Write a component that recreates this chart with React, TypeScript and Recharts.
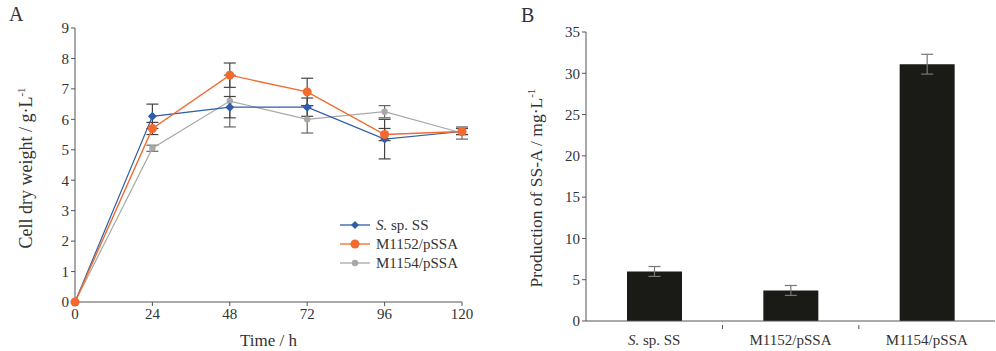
import React from 'react';
import {
    LineChart, Line, BarChart, Bar, XAxis, YAxis, ErrorBar, Customized,
} from 'recharts';

// Panel A: cell dry weight over time
const hours = [0, 24, 48, 72, 96, 120];
const ssValues = [0, 6.1, 6.4, 6.4, 5.35, 5.6];
const ssErrors = [0, 0.4, 0.35, 0.3, 0.65, 0.1];
const m1152Values = [0, 5.7, 7.45, 6.9, 5.5, 5.6];
const m1152Errors = [0, 0.2, 0.4, 0.45, 0.2, 0.1];
const m1154Values = [0, 5.05, 6.6, 6.0, 6.25, 5.55];
const m1154Errors = [0, 0.1, 0.85, 0.45, 0.2, 0.2];
const weightTicks = [0, 1, 2, 3, 4, 5, 6, 7, 8, 9];

// Panel B: SS-A production
const strains = ['S. sp. SS', 'M1152/pSSA', 'M1154/pSSA'];
const production = [6.0, 3.7, 31.1];
const productionErrors = [0.6, 0.6, 1.2];
const productionTicks = [0, 5, 10, 15, 20, 25, 30, 35];

const lineData = hours.map((h, i) => ({
    h,
    ss: ssValues[i], ssErr: ssErrors[i],
    m1152: m1152Values[i], m1152Err: m1152Errors[i],
    m1154: m1154Values[i], m1154Err: m1154Errors[i],
}));

const barData = strains.map((name, i) => ({
    name, value: production[i], err: productionErrors[i],
}));

const FONT = '"Liberation Serif", "DejaVu Serif", serif';
const AXIS = '#555';
const TEXT = '#333';

const SS_COLOR = '#2F5DA8';
const M1152_COLOR = '#F26A2E';
const M1154_COLOR = '#A8A8A8';

const Diamond = (props: any) => {
    const { cx, cy } = props;
    if (cx == null || cy == null) return null;
    const r = 4.5;
    return <path d={`M${cx},${cy - r}L${cx + r},${cy}L${cx},${cy + r}L${cx - r},${cy}Z`} fill={SS_COLOR} />;
};

function StrainName({ name }: { name: string }) {
    if (name.startsWith('S. ')) {
        return (
            <>
                <tspan fontStyle="italic">S.</tspan>
                <tspan>{name.slice(2)}</tspan>
            </>
        );
    }
    return <>{name}</>;
}

const legendItems = [
    { name: 'S. sp. SS', color: SS_COLOR, shape: 'diamond' },
    { name: 'M1152/pSSA', color: M1152_COLOR, shape: 'big' },
    { name: 'M1154/pSSA', color: M1154_COLOR, shape: 'small' },
];

function LineLegend() {
    return (
        <svg width={170} height={64} style={{ fontFamily: FONT, display: 'block' }}>
            {legendItems.map((it, i) => {
                const y = 9 + i * 19;
                return (
                    <g key={it.name}>
                        <line x1={0} x2={30} y1={y} y2={y} stroke={it.color} strokeWidth={1.3} />
                        {it.shape === 'diamond' ? (
                            <path d={`M15,${y - 4}L19,${y}L15,${y + 4}L11,${y}Z`} fill={it.color} />
                        ) : (
                            <circle cx={15} cy={y} r={it.shape === 'big' ? 4.5 : 3.2} fill={it.color} />
                        )}
                        <text x={36} y={y + 5} fontSize={15} fill={TEXT}>
                            <StrainName name={it.name} />
                        </text>
                    </g>
                );
            })}
        </svg>
    );
}

const CategoryTick = (props: any) => {
    const { x, y, payload, index } = props;
    return (
        <g>
            {index > 0 && <line x1={x - 68} x2={x - 68} y1={y - 4} y2={y} stroke={AXIS} />}
            <text x={x} y={y + 16} textAnchor="middle" fontSize={15} fill={TEXT} fontFamily={FONT}>
                <StrainName name={payload.value} />
            </text>
        </g>
    );
};

export default function App() {
    return (
        <div style={{ position: 'absolute', left: 0, top: 0, width: 996, height: 351, background: '#fff', fontFamily: FONT }}>
            <div style={{ position: 'absolute', left: 9, top: 3, fontSize: 20, color: TEXT }}>A</div>
            <div style={{ position: 'absolute', left: 521, top: 4, fontSize: 20, color: TEXT }}>B</div>

            <div style={{ position: 'absolute', left: 0, top: 0 }}>
                <LineChart width={500} height={351} data={lineData} margin={{ top: 28, right: 38, bottom: 0, left: 0 }}>
                    <XAxis
                        dataKey="h" type="number" domain={[0, 120]} ticks={hours}
                        height={49} stroke={AXIS} tickSize={4}
                        tick={{ fontSize: 15, fill: TEXT, fontFamily: FONT }}
                        label={{ value: 'Time / h', position: 'insideBottom', offset: 5, fontSize: 17, fill: TEXT, fontFamily: FONT }}
                    />
                    <YAxis
                        domain={[0, 9]} ticks={weightTicks} width={75} stroke={AXIS} tickSize={4}
                        tick={{ fontSize: 15, fill: TEXT, fontFamily: FONT }}
                    />
                    <Line dataKey="m1154" stroke={M1154_COLOR} strokeWidth={1.2} isAnimationActive={false}
                        dot={{ r: 3.2, fill: M1154_COLOR, stroke: 'none' }}>
                        <ErrorBar dataKey="m1154Err" width={6} stroke="#666" strokeWidth={1.2} direction="y" />
                    </Line>
                    <Line dataKey="ss" stroke={SS_COLOR} strokeWidth={1.2} isAnimationActive={false} dot={<Diamond />}>
                        <ErrorBar dataKey="ssErr" width={6} stroke="#444" strokeWidth={1.2} direction="y" />
                    </Line>
                    <Line dataKey="m1152" stroke={M1152_COLOR} strokeWidth={1.4} isAnimationActive={false}
                        dot={{ r: 4.5, fill: M1152_COLOR, stroke: 'none' }}>
                        <ErrorBar dataKey="m1152Err" width={6} stroke="#444" strokeWidth={1.2} direction="y" />
                    </Line>
                    <Customized component={() => (
                        <text transform="translate(32,168) rotate(-90)" textAnchor="middle" fontSize={18} fill={TEXT} fontFamily={FONT}>
                            Cell dry weight / g·L<tspan dy={-7} fontSize={11}>-1</tspan>
                        </text>
                    )} />
                </LineChart>
            </div>
            <div style={{ position: 'absolute', left: 340, top: 216 }}>
                <LineLegend />
            </div>

            <div style={{ position: 'absolute', left: 500, top: 0 }}>
                <BarChart width={496} height={351} data={barData} margin={{ top: 32, right: 1, bottom: 0, left: 0 }} barSize={55}>
                    <XAxis dataKey="name" height={30} stroke={AXIS} tickLine={false} tick={<CategoryTick />} />
                    <YAxis
                        domain={[0, 35]} ticks={productionTicks} width={86} stroke={AXIS} tickSize={4}
                        tick={{ fontSize: 15, fill: TEXT, fontFamily: FONT }}
                    />
                    <Bar dataKey="value" fill="#1a1a16" isAnimationActive={false}>
                        <ErrorBar dataKey="err" width={6} stroke="#777" strokeWidth={1.2} direction="y" />
                    </Bar>
                    <Customized component={() => (
                        <text transform="translate(42,188) rotate(-90)" textAnchor="middle" fontSize={17.5} fill={TEXT} fontFamily={FONT}>
                            Production of SS-A / mg·L<tspan dy={-7} fontSize={11}>-1</tspan>
                        </text>
                    )} />
                </BarChart>
            </div>
        </div>
    );
}
